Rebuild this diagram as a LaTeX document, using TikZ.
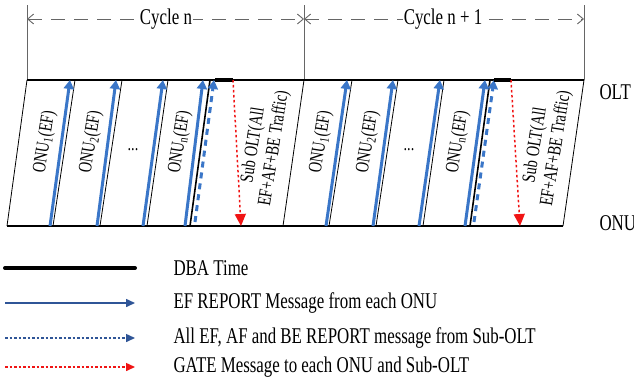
\documentclass[tikz,border=0pt]{standalone}
\usepackage{fontspec}
\setmainfont{Liberation Serif}[FakeStretch=0.75]
\usetikzlibrary{arrows.meta, positioning, calc}

\definecolor{efblue}{RGB}{58,118,200}
\definecolor{legblue}{RGB}{47,85,151}
\definecolor{gatered}{RGB}{240,20,20}

\begin{document}
\begin{tikzpicture}[x=1pt, y=-1pt,
    slot/.style={draw=black, line width=0.8pt},
    axis/.style={draw=black, line width=1.3pt},
    guide/.style={draw=black!60, line width=0.9pt},
    cycline/.style={draw=black!60, line width=0.9pt, dash pattern=on 14pt off 9pt, {Straight Barb[length=6pt,width=10pt]}-{Straight Barb[length=6pt,width=10pt]}},
    efrep/.style={draw=efblue, line width=3pt, -{Triangle[length=9pt,width=10pt]}},
    allrep/.style={draw=efblue, line width=3pt, dash pattern=on 6pt off 5pt, -{Triangle[length=9pt,width=10pt]}},
    gate/.style={draw=gatered, line width=1.5pt, dash pattern=on 2.5pt off 2.5pt, -{Triangle[length=12pt,width=11pt]}},
    dba/.style={draw=black, line width=4pt},
    onulbl/.style={rotate=81, font=\fontsize{19}{20}\selectfont},
    sublbl/.style={rotate=81, align=center, font=\fontsize{19}{21}\selectfont},
    cyclbl/.style={fill=white, inner sep=1pt, font=\fontsize{22.5}{23}\selectfont},
    leglbl/.style={anchor=west, font=\fontsize{22.5}{23}\selectfont}]
\useasboundingbox (0,0) rectangle (634,381);

% cycle marks
\coordinate (v0t) at (27,5);   \coordinate (v0b) at (27,80);
\coordinate (v1t) at (304,5);  \coordinate (v1b) at (304,80);
\coordinate (v2t) at (584,5);  \coordinate (v2b) at (584,80);
\draw[guide] (v0t) -- (v0b);
\draw[guide] (v1t) -- (v1b);
\draw[guide] (v2t) -- (v2b);
\coordinate (c0) at (27,19);
\coordinate (c1) at (304,19);
\coordinate (c2) at (584,19);
\draw[cycline] (c0) -- (c1);
\draw[cycline] (c1) -- (c2);
\node[cyclbl] (cyc1) at (166,19) {Cycle n};
\node[cyclbl] (cyc2) at (443,19) {Cycle n + 1};

% OLT and ONU time lines
\coordinate (oltl) at (27,80);  \coordinate (oltr) at (584,80);
\coordinate (onul) at (7,226);  \coordinate (onur) at (563,226);
\draw[axis] (oltl) -- (oltr);
\draw[axis] (onul) -- (onur);
\node[anchor=west, font=\fontsize{22.5}{23}\selectfont] (olt) at (596,92) {OLT};
\node[anchor=west, font=\fontsize{22.5}{23}\selectfont] (onu) at (596,223) {ONU};

% cycle n slots
\draw[slot] (onul) -- (oltl);
\coordinate (s1b) at (53,226);  \coordinate (s1t) at (75,80);
\coordinate (s2b) at (100,226); \coordinate (s2t) at (122,80);
\coordinate (s3b) at (147,226); \coordinate (s3t) at (168,80);
\coordinate (s4b) at (190,226); \coordinate (s4t) at (210,80);
\coordinate (s5b) at (283,226); \coordinate (s5t) at (304,80);
\draw[slot] (s1b) -- (s1t);
\draw[slot] (s2b) -- (s2t);
\draw[slot] (s3b) -- (s3t);
\draw[slot, line width=1.6pt] (s4b) -- (s4t);
\draw[slot] (s5b) -- (s5t);

\coordinate (a1b) at (50,226);  \coordinate (a1t) at (70,80);
\coordinate (a2b) at (97,226);  \coordinate (a2t) at (116,80);
\coordinate (a3b) at (143,226); \coordinate (a3t) at (163,80);
\coordinate (a4b) at (185,226); \coordinate (a4t) at (203,80);
\coordinate (a5b) at (195,222); \coordinate (a5t) at (214,80);
\draw[efrep] (a1b) -- (a1t);
\draw[efrep] (a2b) -- (a2t);
\draw[efrep] (a3b) -- (a3t);
\draw[efrep] (a4b) -- (a4t);
\draw[allrep] (a5b) -- (a5t);

\coordinate (d1l) at (215,80); \coordinate (d1r) at (233,80);
\draw[dba] (d1l) -- (d1r);
\coordinate (g1b) at (241,226);
\draw[gate] (d1r) -- (g1b);

\node[onulbl] (n11) at (45,142) {ONU\textsubscript{1}(EF)};
\node[onulbl] (n12) at (91,142) {ONU\textsubscript{2}(EF)};
\node[font=\fontsize{19}{20}\selectfont] (n13) at (133,150) {...};
\node[onulbl] (n14) at (180,142) {ONU\textsubscript{n}(EF)};
\node[sublbl] (sub1) at (264,147) {Sub OLT(All\\EF+AF+BE Traffic)};

% cycle n+1 slots
\coordinate (r1b) at (329,226); \coordinate (r1t) at (352,80);
\coordinate (r2b) at (376,226); \coordinate (r2t) at (398,80);
\coordinate (r3b) at (423,226); \coordinate (r3t) at (444,80);
\coordinate (r4b) at (470,226); \coordinate (r4t) at (490,80);
\draw[slot] (r1b) -- (r1t);
\draw[slot] (r2b) -- (r2t);
\draw[slot] (r3b) -- (r3t);
\draw[slot, line width=1.6pt] (r4b) -- (r4t);
\draw[slot] (onur) -- (oltr);

\coordinate (b1b) at (326,226); \coordinate (b1t) at (347,80);
\coordinate (b2b) at (373,226); \coordinate (b2t) at (393,80);
\coordinate (b3b) at (419,226); \coordinate (b3t) at (440,80);
\coordinate (b4b) at (465,226); \coordinate (b4t) at (485,80);
\coordinate (b5b) at (474,222); \coordinate (b5t) at (494,80);
\draw[efrep] (b1b) -- (b1t);
\draw[efrep] (b2b) -- (b2t);
\draw[efrep] (b3b) -- (b3t);
\draw[efrep] (b4b) -- (b4t);
\draw[allrep] (b5b) -- (b5t);

\coordinate (d2l) at (494,80); \coordinate (d2r) at (511,80);
\draw[dba] (d2l) -- (d2r);
\coordinate (g2b) at (520,226);
\draw[gate] (d2r) -- (g2b);

\node[onulbl] (n21) at (321,142) {ONU\textsubscript{1}(EF)};
\node[onulbl] (n22) at (368,142) {ONU\textsubscript{2}(EF)};
\node[font=\fontsize{19}{20}\selectfont] (n23) at (409,150) {...};
\node[onulbl] (n24) at (458,142) {ONU\textsubscript{n}(EF)};
\node[sublbl] (sub2) at (546,147) {Sub OLT(All\\EF+AF+BE Traffic)};

% legend
\coordinate (l1a) at (5,268); \coordinate (l1b) at (135,268);
\coordinate (l2a) at (5,303); \coordinate (l2b) at (135,303);
\coordinate (l3a) at (5,338); \coordinate (l3b) at (135,338);
\coordinate (l4a) at (5,367); \coordinate (l4b) at (135,367);
\draw[dba, line cap=round] (l1a) -- (l1b);
\draw[draw=legblue, line width=1.5pt, -{Triangle[length=9pt,width=8pt]}] (l2a) -- (l2b);
\draw[draw=legblue, line width=1.5pt, dash pattern=on 2.5pt off 2pt, -{Triangle[length=9pt,width=8pt]}] (l3a) -- (l3b);
\draw[draw=gatered, line width=1.5pt, dash pattern=on 2.5pt off 2pt, -{Triangle[length=9pt,width=8pt]}] (l4a) -- (l4b);
\node[leglbl] (t1) at (170,268) {DBA Time};
\node[leglbl] (t2) at (170,303) {EF REPORT Message from each ONU};
\node[leglbl] (t3) at (170,338) {All EF, AF and BE REPORT message from Sub-OLT};
\node[leglbl] (t4) at (170,367) {GATE Message to each ONU and Sub-OLT};
\end{tikzpicture}
\end{document}
